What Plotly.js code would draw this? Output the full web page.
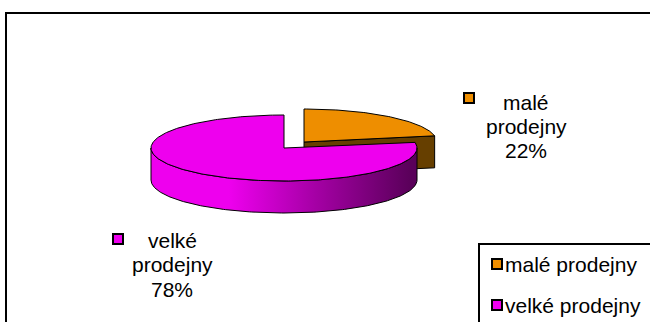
<!DOCTYPE html>
<html>
<head>
<meta charset="utf-8">
<script src="https://cdn.plot.ly/plotly-3.0.1.min.js"></script>
<style>html,body{margin:0;padding:0;background:#fff;}#chart{width:650px;height:322px;}</style>
</head>
<body>
<div id="chart"></div>
<script>
// ---- data ----
const categories = ['malé prodejny', 'velké prodejny'];
const values = [22, 78];

// ---- styles ----
const topColors = ['#EE8E00', '#EE00EE'];
const faceColors = ['#663F00', '#5A005A'];
const explodeFrac = [0.236, 0];
const geom = {cx: 284, cy: 148, rx: 133, ry: 33, depth: 32};
const FONT = 'Liberation Sans, Arial, sans-serif';
const FS = 21;

const total = values.reduce((a, b) => a + b, 0);
const rad = d => d * Math.PI / 180;
function rim(c, th, dz) {
  return [c[0] + geom.rx * Math.sin(rad(th)), c[1] - geom.ry * Math.cos(rad(th)) + (dz || 0)];
}
function arc(c, a, b, dz) {
  const pts = [];
  const n = Math.max(2, Math.ceil(Math.abs(b - a)));
  for (let i = 0; i <= n; i++) pts.push(rim(c, a + (b - a) * i / n, dz));
  return pts;
}
function poly(pts, opts) {
  return Object.assign({
    type: 'scatter', mode: 'lines', fill: 'toself',
    x: pts.map(p => p[0]), y: pts.map(p => p[1]),
    line: {color: '#000', width: 1}, hoverinfo: 'skip', showlegend: false
  }, opts);
}

// build slices
let acc = 0;
const slices = categories.map((cat, i) => {
  const a = acc / total * 360;
  acc += values[i];
  const b = acc / total * 360;
  const mid = (a + b) / 2;
  const e = explodeFrac[i];
  const c = [geom.cx + e * geom.rx * Math.sin(rad(mid)), geom.cy - e * geom.ry * Math.cos(rad(mid))];
  return {i, a, b, mid, c, name: cat};
});
// back to front
const order = slices.slice().sort((s, t) => -Math.cos(rad(s.mid)) - -Math.cos(rad(t.mid)));

const traces = [];
order.forEach(s => {
  const d = geom.depth;
  const apex = s.c, apexB = [s.c[0], s.c[1] + d];
  if (Math.sin(rad(s.a)) < -1e-6) {
    const r = rim(s.c, s.a), rb = rim(s.c, s.a, d);
    traces.push(poly([apex, r, rb, apexB, apex], {fillcolor: faceColors[s.i], name: s.name}));
  }
  if (Math.sin(rad(s.b)) > 1e-6) {
    const r = rim(s.c, s.b), rb = rim(s.c, s.b, d);
    traces.push(poly([apex, r, rb, apexB, apex], {fillcolor: faceColors[s.i], name: s.name}));
  }
  const lo = Math.max(s.a, 90), hi = Math.min(s.b, 270);
  if (hi > lo) {
    const pts = arc(s.c, lo, hi, 0).concat(arc(s.c, hi, lo, d));
    pts.push(pts[0]);
    traces.push(poly(pts, {
      name: s.name,
      fillgradient: {type: 'horizontal',
        colorscale: [[0, topColors[s.i]], [0.3, topColors[s.i]], [0.62, '#A800A8'], [1, faceColors[s.i]]],
        start: geom.cx - geom.rx, stop: geom.cx + geom.rx * 0.95}
    }));
  }
  const tp = [apex].concat(arc(s.c, s.a, s.b, 0));
  tp.push(apex);
  traces.push(poly(tp, {fillcolor: topColors[s.i], name: s.name}));
});

// data labels
const labelPos = [{x: 526, y: [102, 126, 150], kx: 469, ky: 98}, {x: 172, y: [240, 264, 289], kx: 118, ky: 239}];
const annotations = [];
const shapes = [];
// outer frame
shapes.push({type: 'rect', xref: 'x', yref: 'y', x0: 6, y0: 13, x1: 700, y1: 400, line: {color: '#000', width: 2}, layer: 'below'});
categories.forEach((cat, i) => {
  const lines = cat.split(' ').concat([Math.round(values[i] / total * 100) + '%']);
  lines.forEach((t, j) => {
    annotations.push({x: labelPos[i].x, y: labelPos[i].y[j], xref: 'x', yref: 'y', text: t, showarrow: false,
      xanchor: 'center', yanchor: 'middle', font: {family: FONT, size: FS, color: '#000'}});
  });
  shapes.push({type: 'rect', xref: 'x', yref: 'y', x0: labelPos[i].kx - 5, x1: labelPos[i].kx + 5,
    y0: labelPos[i].ky - 5, y1: labelPos[i].ky + 5, fillcolor: topColors[i], line: {color: '#000', width: 2}});
});
// legend box
shapes.push({type: 'rect', xref: 'x', yref: 'y', x0: 479, y0: 244, x1: 700, y1: 400, line: {color: '#000', width: 2}, fillcolor: '#fff', layer: 'above'});
const legendY = [264, 305];
categories.forEach((cat, i) => {
  shapes.push({type: 'rect', xref: 'x', yref: 'y', x0: 492, x1: 502, y0: legendY[i] - 5, y1: legendY[i] + 5,
    fillcolor: topColors[i], line: {color: '#000', width: 2}, layer: 'above'});
  annotations.push({x: 503, y: legendY[i], xref: 'x', yref: 'y', text: cat, showarrow: false,
    xanchor: 'left', yanchor: 'middle', font: {family: FONT, size: FS, color: '#000'}});
});

const layout = {
  width: 650, height: 322,
  margin: {l: 0, r: 0, t: 0, b: 0},
  paper_bgcolor: '#fff', plot_bgcolor: '#fff',
  xaxis: {range: [0, 650], visible: false, fixedrange: true},
  yaxis: {range: [322, 0], visible: false, fixedrange: true},
  showlegend: false,
  annotations: annotations,
  shapes: shapes,
  font: {family: FONT}
};
Plotly.newPlot('chart', traces, layout, {staticPlot: true, displayModeBar: false});
</script>
</body>
</html>
